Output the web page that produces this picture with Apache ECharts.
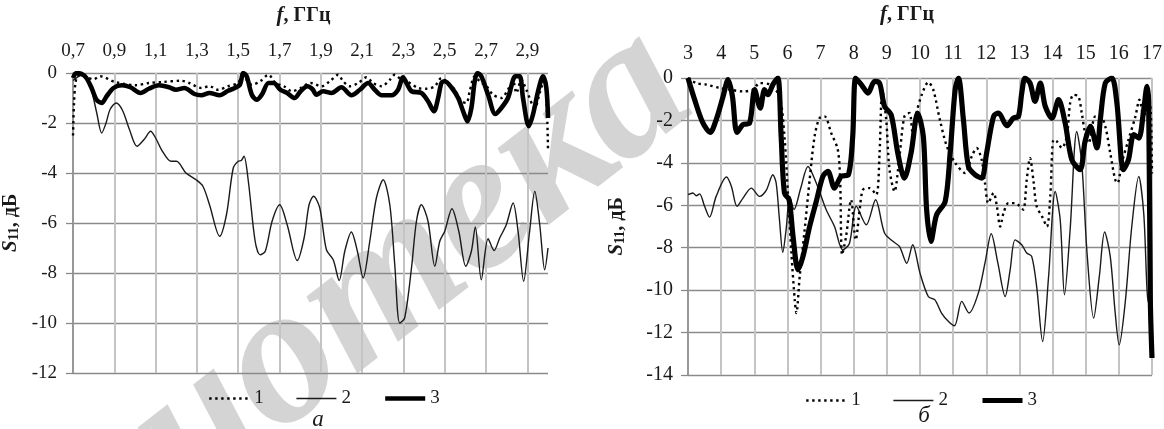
<!DOCTYPE html>
<html>
<head>
<meta charset="utf-8">
<script src="https://cdn.jsdelivr.net/npm/echarts@6/dist/echarts.min.js"></script>
<style>
html, body { margin: 0; padding: 0; background: #fff; }
#main { width: 1164px; height: 429px; }
</style>
</head>
<body>
<div id="main"></div>
<script>
// ---- chart "а": 0.7 .. 3.0 GHz ----
var fA1 = [0.700,0.705,0.712,0.725,0.760,0.800,0.831,0.904,1.002,1.067,1.133,1.223,1.263,1.321,1.361,1.402,1.451,1.500,1.517,1.533,1.566,1.606,1.647,1.680,1.721,1.761,1.802,1.851,1.903,1.944,1.984,2.008,2.040,2.081,2.121,2.153,2.194,2.234,2.258,2.290,2.331,2.371,2.411,2.452,2.484,2.516,2.548,2.581,2.605,2.621,2.645,2.669,2.702,2.734,2.774,2.806,2.831,2.847,2.871,2.895,2.936,2.960,2.984,2.995,3.000];
var sA1 = [-2.5,-1.2,-0.4,-0.1,-0.15,-0.25,-0.13,-0.36,-0.49,-0.40,-0.36,-0.31,-0.40,-0.60,-0.53,-0.67,-0.53,-0.40,-0.13,-0.20,-0.47,-0.33,-0.07,-0.40,-0.53,-0.73,-0.60,-0.40,-0.53,-0.33,-0.07,-0.33,-0.53,-0.40,-0.17,-0.40,-0.53,-0.27,-0.07,-0.27,-0.40,-0.60,-0.63,-0.53,-0.20,-0.40,-0.67,-1.13,-1.20,-0.73,-0.13,-0.33,-0.53,-0.87,-1.00,-0.67,-0.33,-0.80,-0.27,-0.67,-1.40,-0.80,-0.20,-1.50,-3.07];

var fA2 = [0.700,0.740,0.770,0.790,0.815,0.839,0.860,0.880,0.909,0.940,0.975,1.010,1.045,1.076,1.100,1.133,1.174,1.201,1.247,1.296,1.329,1.361,1.410,1.443,1.476,1.500,1.515,1.528,1.549,1.582,1.606,1.631,1.664,1.701,1.737,1.786,1.819,1.843,1.865,1.895,1.927,1.960,1.989,2.016,2.048,2.077,2.105,2.137,2.169,2.202,2.234,2.258,2.282,2.306,2.339,2.363,2.387,2.419,2.452,2.476,2.500,2.535,2.568,2.602,2.629,2.648,2.677,2.710,2.739,2.766,2.798,2.831,2.855,2.882,2.911,2.936,2.960,2.984,3.000];
var sA2 = [-0.3,-0.1,-0.3,-0.7,-1.6,-2.4,-2.0,-1.45,-1.2,-1.5,-2.3,-2.93,-2.65,-2.33,-2.6,-3.13,-3.53,-3.53,-4.0,-4.27,-4.53,-5.27,-6.53,-5.67,-3.8,-3.53,-3.5,-3.33,-4.33,-6.73,-7.27,-7.13,-5.93,-5.27,-6.07,-7.5,-6.6,-5.27,-4.93,-5.4,-7.07,-7.47,-8.3,-7.13,-6.36,-7.13,-8.2,-6.73,-5.0,-4.27,-5.27,-7.67,-10.0,-9.8,-7.8,-5.93,-5.27,-5.93,-7.73,-6.73,-6.33,-5.43,-6.33,-7.73,-7.13,-6.16,-8.27,-6.63,-7.1,-6.6,-6.07,-5.2,-6.33,-8.33,-6.33,-4.73,-6.07,-7.87,-7.0];

var fA3 = [0.700,0.716,0.741,0.765,0.790,0.814,0.839,0.863,0.896,0.937,0.978,1.027,1.067,1.116,1.165,1.198,1.239,1.288,1.321,1.361,1.410,1.451,1.484,1.508,1.525,1.541,1.566,1.590,1.614,1.647,1.672,1.704,1.737,1.773,1.802,1.835,1.860,1.879,1.911,1.952,2.000,2.048,2.089,2.129,2.161,2.194,2.242,2.274,2.298,2.315,2.339,2.387,2.419,2.448,2.468,2.484,2.500,2.532,2.565,2.589,2.610,2.629,2.645,2.658,2.677,2.710,2.745,2.774,2.806,2.831,2.842,2.863,2.879,2.907,2.927,2.952,2.976,2.992,3.000];
var sA3 = [-0.2,0,-0.03,-0.2,-0.6,-1.07,-1.2,-0.93,-0.6,-0.49,-0.57,-0.8,-0.63,-0.49,-0.57,-0.67,-0.6,-0.84,-0.89,-0.8,-0.89,-0.71,-0.6,-0.47,0,-0.13,-0.87,-1.07,-0.87,-0.4,-0.4,-0.67,-0.8,-1.0,-0.73,-0.53,-0.65,-0.87,-0.73,-0.8,-0.57,-0.89,-0.67,-0.4,-0.67,-0.89,-0.89,-0.67,-0.17,-0.4,-0.73,-0.8,-1.13,-1.53,-1.0,-0.4,-0.33,-0.57,-1.0,-1.53,-1.93,-1.4,-0.33,0,-0.13,-0.87,-1.64,-1.4,-1.0,-0.27,-0.13,-0.13,-1.0,-2.13,-1.67,-0.73,-0.13,-0.6,-1.8];

// ---- chart "б": 3 .. 17 GHz ----
var fB1 = [3.00,3.25,3.55,3.95,4.26,4.66,4.96,5.16,5.46,5.76,5.91,6.02,6.12,6.22,6.27,6.37,6.52,6.67,6.82,6.97,7.12,7.32,7.52,7.59,7.65,7.77,7.92,8.06,8.18,8.28,8.48,8.68,8.78,8.86,8.98,9.08,9.23,9.38,9.53,9.68,9.78,9.90,10.05,10.25,10.40,10.60,10.81,11.06,11.36,11.56,11.71,11.86,11.96,12.06,12.22,12.32,12.42,12.52,12.67,12.87,13.02,13.12,13.22,13.32,13.42,13.52,13.68,13.83,13.93,14.03,14.13,14.28,14.43,14.53,14.63,14.78,14.88,14.98,15.09,15.29,15.44,15.59,15.74,15.89,15.96,16.09,16.29,16.50,16.62,16.75,16.88,16.96,17.00];
var sB1 = [0,-0.24,-0.31,-0.47,-0.55,-0.63,-0.55,-0.24,-0.31,-0.86,-2.75,-5.58,-8.25,-10.46,-11.08,-9.36,-7.15,-4.8,-2.75,-1.89,-1.81,-2.59,-3.38,-4.8,-8.33,-7.47,-5.74,-7.63,-6.21,-5.27,-5.19,-5.5,-3.54,-0.55,-1.97,-4.32,-5.35,-3.7,-1.81,-1.65,-2.59,-1.6,-0.8,-0.2,-0.55,-1.97,-3.22,-4.0,-4.48,-3.7,-3.3,-3.85,-4.95,-5.9,-5.42,-6.05,-7.0,-6.37,-5.9,-5.9,-6.05,-6.21,-4.8,-3.77,-4.8,-6.05,-6.52,-7.0,-5.58,-2.91,-2.99,-3.3,-2.75,-1.18,-0.79,-0.87,-1.65,-2.59,-3.07,-1.81,-1.81,-2.28,-3.54,-4.8,-4.95,-4.0,-2.91,-1.81,-1.02,-1.9,-0.7,-1.5,-4.5];

var fB2 = [3.00,3.15,3.25,3.35,3.50,3.65,3.85,4.16,4.31,4.48,4.66,4.91,5.16,5.36,5.56,5.66,5.76,5.86,5.96,6.07,6.20,6.40,6.62,6.87,7.17,7.42,7.67,7.87,8.08,8.38,8.66,8.93,9.18,9.38,9.60,9.78,10.00,10.25,10.45,10.65,10.86,11.04,11.26,11.48,11.76,11.96,12.15,12.35,12.57,12.72,12.87,13.07,13.22,13.37,13.52,13.70,13.88,14.08,14.23,14.36,14.53,14.73,14.88,15.04,15.24,15.41,15.57,15.74,15.89,16.01,16.19,16.39,16.60,16.75,16.90,17.00];
var sB2 = [-5.5,-5.42,-5.55,-5.46,-6.05,-6.56,-5.58,-4.67,-5.11,-6.05,-5.66,-5.19,-5.58,-5.3,-4.56,-4.95,-6.68,-8.22,-7.15,-5.58,-6.2,-5.2,-4.17,-4.95,-6.21,-7.0,-8.1,-7.8,-6.05,-6.92,-5.74,-7.31,-7.7,-7.94,-8.73,-7.86,-9.2,-10.3,-10.46,-11.08,-11.48,-11.68,-10.53,-11.08,-10.14,-8.73,-7.34,-8.73,-10.3,-9.04,-7.63,-7.86,-8.25,-8.41,-9.83,-12.42,-9.36,-5.35,-6.68,-10.22,-7.15,-2.52,-4.0,-8.25,-11.32,-9.36,-7.26,-8.41,-11.08,-12.58,-10.61,-7.0,-4.64,-6.37,-10.61,-10.5];

var fB3 = [3.00,3.20,3.45,3.67,3.85,4.06,4.21,4.34,4.48,4.66,4.86,5.01,5.18,5.31,5.41,5.56,5.71,5.81,5.91,6.05,6.17,6.32,6.47,6.67,6.87,7.07,7.22,7.42,7.62,7.84,7.97,8.06,8.23,8.43,8.63,8.78,8.93,9.13,9.33,9.53,9.73,9.93,10.10,10.20,10.33,10.50,10.76,10.91,11.06,11.16,11.31,11.46,11.66,11.86,12.01,12.22,12.37,12.62,12.82,12.97,13.07,13.17,13.32,13.47,13.63,13.78,13.98,14.18,14.38,14.58,14.83,14.98,15.14,15.34,15.44,15.59,15.79,15.94,16.14,16.29,16.45,16.60,16.75,16.85,16.90,16.95,17.00];
var sB3 = [0,-1.02,-2.12,-2.56,-1.97,-0.86,-0.08,-0.86,-2.56,-2.2,-2.12,-0.55,-1.42,-0.55,-0.79,-0.31,0,-2.75,-5.42,-5.74,-7.47,-9.04,-8.41,-7.0,-5.82,-4.64,-4.4,-5.19,-4.64,-4.56,-2.75,0,-0.31,-0.71,-0.16,-0.24,-1.34,-1.73,-3.54,-4.72,-3.54,-1.65,-2.75,-6.21,-7.7,-6.45,-5.82,-3.54,-0.55,0,-1.97,-4.17,-4.56,-4.72,-3.54,-1.81,-1.65,-2.25,-1.89,-1.81,-0.71,0,-0.24,-1.1,-0.24,-1.34,-1.89,-1.02,-2.12,-3.85,-4.32,-2.99,-2.28,-3.3,-1.97,-0.24,0,-1.18,-4.32,-3.85,-2.67,-2.83,-1.49,-0.39,-1.2,-10.5,-13.2];

var seriesNames = ['1', '2', '3'];

var FONT = '"Liberation Serif", "Times New Roman", serif';
var TXT = '#1a1a1a';

function pairs(fs, vs) {
    return fs.map(function (f, i) { return [f, vs[i]]; });
}

var lineStyles = {
    '1': { color: '#000', width: 2.4, type: [2.4, 3.6] },
    '2': { color: '#1a1a1a', width: 1.4, type: 'solid' },
    '3': { color: '#000', width: 4.6, type: 'solid' }
};

function makeLine(name, gi, fs, vs, w) {
    var ls = Object.assign({}, lineStyles[name]);
    if (w) ls.width = w;
    return {
        name: name,
        type: 'line',
        xAxisIndex: gi,
        yAxisIndex: gi,
        data: pairs(fs, vs),
        smooth: 0.3,
        symbol: 'none',
        lineStyle: ls,
        itemStyle: { color: ls.color },
        z: name === '3' ? 4 : (name === '1' ? 3 : 2),
        animation: false
    };
}

function xAxisCfg(gi, min, max, interval, fontSize, gap, margin, fmt, padRight) {
    return {
        gridIndex: gi,
        type: 'value',
        position: 'top',
        min: min, max: max, interval: interval,
        name: '{i|f}{t|, ГГц}',
        nameLocation: 'middle',
        nameGap: gap,
        nameTextStyle: {
            padding: [0, padRight, 0, 0],
            rich: {
                i: { fontFamily: FONT, fontStyle: 'italic', fontWeight: 'bold', fontSize: 21, color: TXT },
                t: { fontFamily: FONT, fontWeight: 'bold', fontSize: 20, color: TXT }
            }
        },
        axisLine: { show: false },
        axisTick: { show: false },
        axisLabel: {
            fontFamily: FONT, fontSize: fontSize, color: TXT, margin: margin,
            showMaxLabel: gi === 1,
            formatter: fmt
        },
        splitLine: { show: true, showMaxLine: gi === 1, lineStyle: { color: '#c4c4c4', width: 2 } }
    };
}

function yAxisCfg(gi, min, fontSize, gap, margin) {
    return {
        gridIndex: gi,
        type: 'value',
        min: min, max: 0, interval: 2,
        name: '{s|S}{sub|11}{t|, дБ}',
        nameLocation: 'middle',
        nameGap: gap,
        nameTextStyle: {
            rich: {
                s: { fontFamily: FONT, fontStyle: 'italic', fontWeight: 'bold', fontSize: 21, color: TXT },
                sub: { fontFamily: FONT, fontWeight: 'bold', fontSize: 14, color: TXT, verticalAlign: 'bottom', padding: [6, 0, 0, 0] },
                t: { fontFamily: FONT, fontWeight: 'bold', fontSize: 20, color: TXT }
            }
        },
        axisLine: { show: true, lineStyle: { color: '#8a8a8a', width: 1.5 } },
        axisTick: { show: true, length: 7, lineStyle: { color: '#8a8a8a', width: 1.3 } },
        axisLabel: { fontFamily: FONT, fontSize: fontSize, color: TXT, margin: margin },
        splitLine: { show: true, lineStyle: { color: '#8a8a8a', width: 1.3 } }
    };
}

function legendCfg(left, top, thick) {
    return {
        data: seriesNames.map(function (n) {
            var ls = Object.assign({}, lineStyles[n]);
            if (n === '3') ls.width = thick;
            return { name: n, lineStyle: ls };
        }),
        left: left, top: top,
        orient: 'horizontal',
        itemWidth: 40, itemHeight: 12, itemGap: 32,
        selectedMode: false,
        itemStyle: { color: 'rgba(0,0,0,0)', borderWidth: 0, opacity: 0 },
        textStyle: { fontFamily: FONT, fontSize: 19, color: TXT }
    };
}

var chart = echarts.init(document.getElementById('main'), null, { renderer: 'canvas' });

var option = {
    backgroundColor: '#fff',
    animation: false,
    grid: [
        { left: 73, top: 73, width: 475, height: 300, outerBoundsMode: 'none' },
        { left: 688, top: 78, width: 464, height: 297, outerBoundsMode: 'none' }
    ],
    xAxis: [
        xAxisCfg(0, 0.7, 3.0, 0.2, 19, 47, 12, function (v) { return v.toFixed(1).replace('.', ','); }, 14),
        xAxisCfg(1, 3, 17, 1, 20, 53, 14, function (v) { return String(Math.round(v)); }, 26)
    ],
    yAxis: [
        yAxisCfg(0, -12, 19, 52, 16),
        yAxisCfg(1, -14, 20, 61, 15)
    ],
    legend: [legendCfg(203, 384, 4.6), legendCfg(800, 386, 5.2)],
    graphic: [
        {
            type: 'text', x: 240, y: 399, rotation: 0.66, z: -10, zlevel: 0, silent: true,
            style: { text: 'Библиотека', font: 'italic bold 200px "Liberation Serif"', fill: '#d4d4d4', align: 'center', verticalAlign: 'middle' }
        },
        {
            type: 'text', x: 318, y: 420, z: 10,
            style: { text: 'а', font: 'italic 23px "Liberation Serif"', fill: TXT, align: 'center', verticalAlign: 'middle' }
        },
        {
            type: 'text', x: 924, y: 416, z: 10,
            style: { text: 'б', font: 'italic 23px "Liberation Serif"', fill: TXT, align: 'center', verticalAlign: 'middle' }
        }
    ],
    series: [
        makeLine('1', 0, fA1, sA1),
        makeLine('2', 0, fA2, sA2),
        makeLine('3', 0, fA3, sA3),
        makeLine('1', 1, fB1, sB1),
        makeLine('2', 1, fB2, sB2),
        makeLine('3', 1, fB3, sB3, 5.2)
    ]
};

chart.setOption(option);
</script>
</body>
</html>
